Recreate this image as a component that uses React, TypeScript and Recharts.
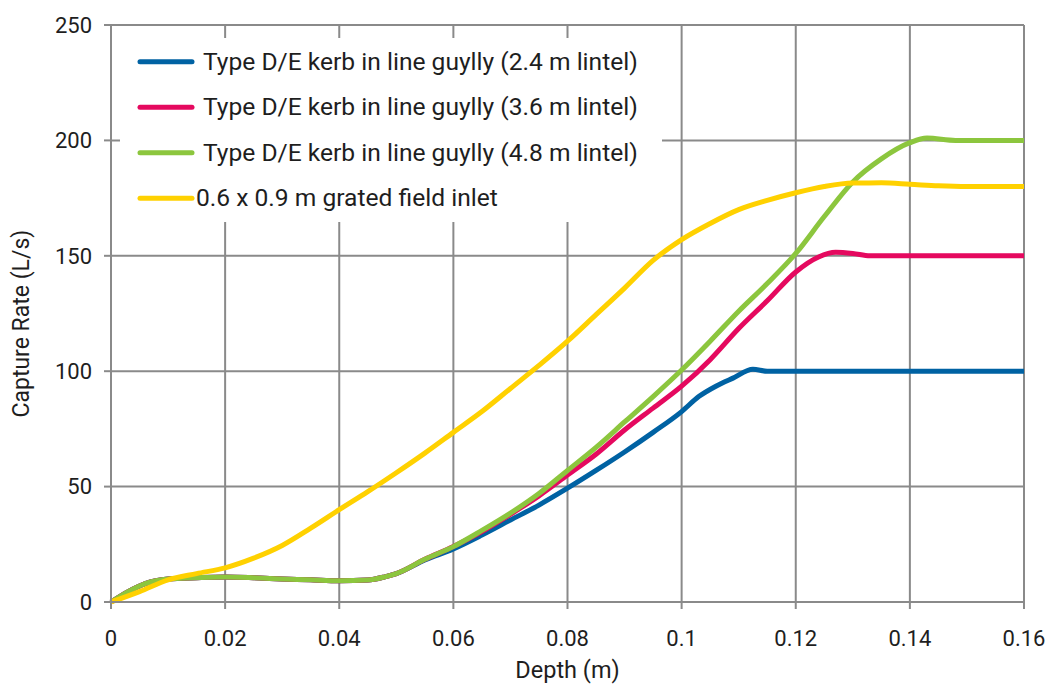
import { LineChart, Line, XAxis, YAxis, CartesianGrid } from "recharts";

// depth (m) ticks and capture rate (L/s) ticks
const depthTicks = [0, 0.02, 0.04, 0.06, 0.08, 0.1, 0.12, 0.14, 0.16];
const rateTicks = [0, 50, 100, 150, 200, 250];

// Type D/E kerb in line gully, 2.4 m lintel
const lintel24Depth = [0, 0.003, 0.006, 0.01, 0.015, 0.02, 0.025, 0.03, 0.035, 0.04, 0.045, 0.048, 0.05, 0.055, 0.06, 0.065, 0.07, 0.075, 0.08, 0.085, 0.09, 0.095, 0.1, 0.103, 0.106, 0.109, 0.1125, 0.115, 0.12, 0.13, 0.14, 0.15, 0.16];
const lintel24Rate = [0, 4.5, 8, 10, 10.5, 10.8, 10.5, 10, 9.6, 9.2, 9.5, 10.9, 12.3, 18.2, 23, 29, 35.5, 42, 49.3, 57, 65, 73.5, 82.5, 89, 93.5, 97, 100.8, 100, 100, 100, 100, 100, 100];

// 3.6 m lintel
const lintel36Depth = [0, 0.003, 0.006, 0.01, 0.015, 0.02, 0.025, 0.03, 0.035, 0.04, 0.045, 0.048, 0.05, 0.055, 0.06, 0.065, 0.07, 0.075, 0.08, 0.085, 0.09, 0.095, 0.1, 0.105, 0.11, 0.115, 0.12, 0.124, 0.127, 0.13, 0.133, 0.14, 0.15, 0.16];
const lintel36Rate = [0, 4.5, 8, 10, 10.5, 10.8, 10.5, 10, 9.6, 9.2, 9.5, 10.9, 12.3, 18.5, 24, 30.5, 38, 46, 55, 64, 74.5, 84, 93.5, 105, 118.5, 130.5, 143, 149.5, 151.5, 151, 150, 150, 150, 150];

// 4.8 m lintel
const lintel48Depth = [0, 0.003, 0.006, 0.01, 0.015, 0.02, 0.025, 0.03, 0.035, 0.04, 0.045, 0.048, 0.05, 0.055, 0.06, 0.065, 0.07, 0.075, 0.08, 0.085, 0.09, 0.095, 0.1, 0.105, 0.11, 0.115, 0.12, 0.125, 0.13, 0.135, 0.14, 0.143, 0.148, 0.155, 0.16];
const lintel48Rate = [0, 4.5, 8, 10, 10.5, 10.8, 10.5, 10, 9.6, 9.2, 9.5, 10.9, 12.3, 18.5, 24, 31, 38.5, 47, 57, 67, 78, 89, 100.5, 113, 126, 138, 151, 167, 182, 192, 199, 201, 200, 200, 200];

// 0.6 x 0.9 m grated field inlet
const gratedDepth = [0, 0.005, 0.01, 0.015, 0.02, 0.025, 0.03, 0.035, 0.04, 0.045, 0.05, 0.055, 0.06, 0.065, 0.07, 0.075, 0.08, 0.085, 0.09, 0.095, 0.1, 0.105, 0.11, 0.115, 0.12, 0.125, 0.13, 0.135, 0.14, 0.145, 0.15, 0.16];
const gratedRate = [0, 4.5, 9.6, 12.3, 14.8, 19, 24.5, 32, 40, 47.8, 56, 64.5, 73.5, 82.5, 92.5, 102.5, 113, 124.5, 136, 148, 157, 164, 170, 174, 177.3, 180, 181.5, 181.6, 181, 180.3, 180, 180];

const seriesNames = [
  "Type D/E kerb in line guylly (2.4 m lintel)",
  "Type D/E kerb in line guylly (3.6 m lintel)",
  "Type D/E kerb in line guylly (4.8 m lintel)",
  "0.6 x 0.9 m grated field inlet",
];

const colors = ["#0062a3", "#e5095f", "#8cc63e", "#ffd100"];
const gridColor = "#8a8a8a";
const textColor = "#1e1e1e";
const font = "Roboto, 'Liberation Sans', Arial, sans-serif";

const toPoints = (depth: number[], rate: number[]) =>
  depth.map((d, i) => ({ depth: d, rate: rate[i] }));

const series = [
  toPoints(lintel24Depth, lintel24Rate),
  toPoints(lintel36Depth, lintel36Rate),
  toPoints(lintel48Depth, lintel48Rate),
  toPoints(gratedDepth, gratedRate),
];

function ChartLegend() {
  const rows = [23.7, 69.3, 114.7, 160.3];
  return (
    <div
      style={{
        position: "absolute",
        left: 120,
        top: 38,
        width: 542,
        height: 184,
        background: "#fff",
      }}
    >
      <svg width={542} height={184}>
        {seriesNames.map((name, i) => (
          <g key={name}>
            <line
              x1={20}
              x2={72}
              y1={rows[i]}
              y2={rows[i]}
              stroke={colors[i]}
              strokeWidth={5}
              strokeLinecap="round"
            />
            <text
              x={i === 3 ? 76 : 83}
              y={rows[i] + 8}
              fontSize={24.6}
              fontFamily={font}
              fill={textColor}
            >
              {name}
            </text>
          </g>
        ))}
      </svg>
    </div>
  );
}

export default function App() {
  return (
    <div style={{ position: "absolute", left: 0, top: 0, width: 1054, height: 684 }}>
      <LineChart
        width={1054}
        height={684}
        margin={{ top: 25, right: 30, bottom: 0, left: 0 }}
      >
        <CartesianGrid stroke={gridColor} strokeWidth={2} />
        <XAxis
          type="number"
          dataKey="depth"
          domain={[0, 0.16]}
          ticks={depthTicks}
          height={82}
          stroke={gridColor}
          strokeWidth={2}
          tickSize={7}
          tickMargin={21}
          tick={{ fontSize: 22, fontFamily: font, fill: textColor }}
          label={{
            value: "Depth (m)",
            position: "insideBottom",
            offset: 6,
            fontSize: 23.5,
            fontFamily: font,
            fill: textColor,
          }}
        />
        <YAxis
          type="number"
          domain={[0, 250]}
          ticks={rateTicks}
          width={111}
          stroke={gridColor}
          strokeWidth={2}
          tickSize={7}
          tickMargin={12}
          tick={{ fontSize: 22, fontFamily: font, fill: textColor }}
          label={{
            value: "Capture Rate (L/s)",
            angle: -90,
            position: "insideLeft",
            offset: 21,
            dy: 104,
            fontSize: 23,
            fontFamily: font,
            fill: textColor,
          }}
        />
        {series.map((data, i) => (
          <Line
            key={seriesNames[i]}
            data={data}
            dataKey="rate"
            type="monotone"
            stroke={colors[i]}
            strokeWidth={5}
            dot={false}
            activeDot={false}
            isAnimationActive={false}
          />
        ))}
      </LineChart>
      <ChartLegend />
    </div>
  );
}
